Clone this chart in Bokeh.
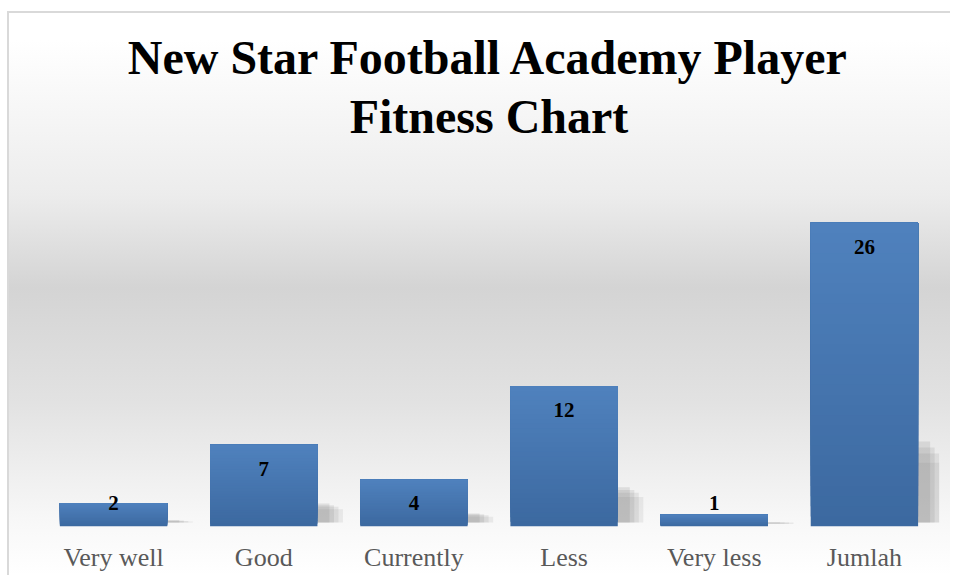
from bokeh.plotting import figure
from bokeh.models import ColumnDataSource, Range1d, Title
from bokeh.transform import dodge
from bokeh.core.properties import value
from bokeh.embed import file_html
from bokeh.resources import INLINE

categories = ["Very well", "Good", "Currently", "Less", "Very less", "Jumlah"]
counts = [2, 7, 4, 12, 1, 26]
title_lines = ["New Star Football Academy Player", "Fitness Chart"]

BAR_W = 0.715
TOP_COLOR = (0x4F, 0x81, 0xBD)
BOT_COLOR = (0x3C, 0x69, 0xA0)

bg = ", ".join([
    "linear-gradient(#d9d9d9, #d9d9d9) 7px 11px / 2px 700px no-repeat",
    "linear-gradient(#d9d9d9, #d9d9d9) 7px 11px / 1000px 2px no-repeat",
    "linear-gradient(#ffffff, #ffffff) 0px 0px / 7px 700px no-repeat",
    "linear-gradient(#ffffff, #ffffff) 0px 0px / 1000px 11px no-repeat",
    "linear-gradient(to bottom, #ffffff 0%, #ffffff 7%, #ececec 34%, #d4d4d4 50%, #e2e2e2 70%, #f8f8f8 91%, #ffffff 100%)",
])

p = figure(
    x_range=categories,
    y_range=Range1d(0, 31.5),
    width=950, height=575,
    output_backend="svg", toolbar_location=None,
    y_axis_location=None,
    min_border_left=38, min_border_right=11,
    min_border_top=158, min_border_bottom=49,
    title=title_lines[0],
    styles={"background": bg},
)
p.border_fill_color = None
p.background_fill_color = None
p.outline_line_color = None
p.xgrid.visible = False
p.ygrid.visible = False

def style_title(t):
    t.align = "center"
    t.text_font = "Liberation Serif"
    t.text_font_size = "48px"
    t.text_font_style = "bold"
    t.text_color = "#000000"

style_title(p.title)
p.title.standoff = -23
p.title.offset = 0
t2 = Title(text=title_lines[1])
style_title(t2)
t2.standoff = 31
p.add_layout(t2, "above")

# soft shadows to the right of each bar (derived from bar values)
shadow_layers = [(0.17, 0.21, 0.12), (0.14, 0.24, 0.14), (0.11, 0.26, 0.16), (0.08, 0.28, 0.18)]
for off, frac, alpha in shadow_layers:
    src = ColumnDataSource(dict(cat=categories, top=[v * frac for v in counts]))
    p.vbar(x=dodge("cat", off, range=p.x_range), width=BAR_W, bottom=0.35, top="top",
           source=src, fill_color="#7f7f7f", fill_alpha=alpha, line_color=None)

# bars with vertical gradient: overlapping slices from each level to the bar top
N = 30
xs, bots, tops, cols = [], [], [], []
for k in range(N):
    t = k / (N - 1)
    rgb = tuple(int(round(BOT_COLOR[i] + (TOP_COLOR[i] - BOT_COLOR[i]) * t)) for i in range(3))
    for c, v in zip(categories, counts):
        xs.append(c)
        bots.append(v * k / N)
        tops.append(v)
        cols.append("#%02x%02x%02x" % rgb)
bars = ColumnDataSource(dict(x=xs, bottom=bots, top=tops, color=cols))
p.vbar(x="x", width=BAR_W, bottom="bottom", top="top", source=bars,
       fill_color="color", line_color=None)

# value labels inside the top of each bar
lab = ColumnDataSource(dict(cat=categories, y=[max(v - 2.05, 1.97) for v in counts],
                            txt=[str(v) for v in counts]))
p.text(x="cat", y="y", text="txt", source=lab, text_align="center", text_baseline="middle",
       text_font=value("Liberation Serif"), text_font_size="21px", text_font_style="bold",
       text_color="#000000")

ax = p.xaxis[0]
ax.axis_line_color = None
ax.major_tick_line_color = None
ax.minor_tick_line_color = None
ax.major_label_text_font = "Liberation Serif"
ax.major_label_text_font_size = "26px"
ax.major_label_text_color = "#595959"
ax.major_label_standoff = 10

open("out.html", "w").write(file_html(p, INLINE))
